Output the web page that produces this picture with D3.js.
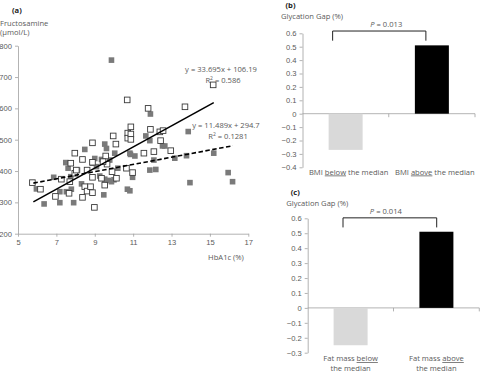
<!DOCTYPE html>
<html><head><meta charset="utf-8">
<script src="https://cdn.jsdelivr.net/npm/d3@7"></script>
<style>
body{margin:0;background:#fff;}
svg{display:block;font-family:"Open Sans","Noto Sans",sans-serif;}
</style></head>
<body><svg id="c" width="480" height="372"></svg>
<script>
// ---- Data ----
const openPts = [
[5.75,363],[6.17,342],[6.95,319],[7.26,374],[7.75,425],[7.96,393],[7.66,329],[7.96,457],
[8.88,490],[8.36,437],[8.48,350],[8.36,316],[8.6,336],[8.78,350],[8.88,331],[8.98,284],
[8.88,428],[8.6,403],[8.88,380],[9.35,377],[9.57,448],[9.64,422],[9.96,512],[10.1,486],
[10.13,377],[9.9,398],[10.72,521],[10.72,505],[10.65,409],[9.52,355],[10.88,541],[10.88,518],
[10.88,501],[11.9,533],[12.39,525],[12.56,529],[12.43,497],[11.56,457],[12.08,462],[12.96,465],
[10.97,395],[10.69,627],[11.78,600],[13.7,605],[15.17,675],[9.43,430],[8.04,403],[7.7,366]
];
const filledPts = [
[5.96,343],[6.36,295],[6.86,380],[7.18,299],[7.18,334],[7.49,427],[7.61,409],[7.75,382],
[7.52,334],[7.78,342],[7.9,299],[8.1,403],[8.31,359],[8.48,469],[8.88,425],[9.09,414],
[9.26,384],[9.35,437],[9.52,486],[9.61,472],[9.47,324],[9.52,374],[9.78,435],[10.04,457],
[9.87,366],[10.2,409],[10.7,342],[10.83,337],[10.83,457],[9.87,754],[11.66,512],[11.87,497],
[12.53,480],[12.65,480],[13.87,526],[10.86,453],[11.09,448],[12.08,435],[13.17,441],[13.78,449],
[15.2,457],[11.87,403],[12.18,405],[10.97,380],[13.96,363],[15.95,395],[16.18,366],[11.9,582],
[9.7,370],[10.0,372],[9.0,440]
];
const fitOpen = {slope:33.695, intercept:106.19, x0:5.8, x1:15.2, eq:"y = 33.695x + 106.19", r2:"0.586"};
const fitFilled = {slope:11.489, intercept:294.7, x0:5.8, x1:16.2, eq:"y = 11.489x + 294.7", r2:"0.1281"};
const xTicksA = [5,7,9,11,13,15,17];
const yTicksA = [200,300,400,500,600,700,800];

const catsB = [["BMI ","below"," the median"],["BMI ","above"," the median"]];
const valsB = [-0.27, 0.51];
const ticksB = [-0.4,-0.3,-0.2,-0.1,0,0.1,0.2,0.3,0.4,0.5,0.6];
const pB = "0.013";

const catsC = [["Fat mass ","below",""],["Fat mass ","above",""]];
const valsC = [-0.25, 0.51];
const ticksC = [-0.3,-0.2,-0.1,0,0.1,0.2,0.3,0.4,0.5,0.6];
const pC = "0.014";

const barColors = ["#d9d9d9","#000000"];

// ---- Drawing ----
const svg = d3.select("#c");
const axisCol = "#a0a0a0", txtCol = "#5a5a5a", fs = 7.6;

// Panel (a)
const xA = d3.scaleLinear().domain([5,17]).range([18,248.3]);
const yA = d3.scaleLinear().domain([200,800]).range([233.7,45.7]);
const gA = svg.append("g");
function styleAxis(g){
  g.selectAll("path,line").attr("stroke",axisCol).attr("stroke-width",0.8);
  g.selectAll("text").attr("fill",txtCol).attr("font-size",fs);
}
gA.append("g").attr("transform",`translate(0,${yA(200)})`)
  .call(d3.axisBottom(xA).tickValues(xTicksA).tickSize(3).tickSizeOuter(0).tickPadding(3))
  .call(styleAxis);
gA.append("g").attr("transform",`translate(${xA(5)},0)`)
  .call(d3.axisLeft(yA).tickValues(yTicksA).tickSize(3).tickSizeOuter(0).tickPadding(3))
  .call(styleAxis);
gA.selectAll(".domain").attr("stroke",axisCol);

const line = d3.line().x(d=>xA(d[0])).y(d=>yA(d[1]));
gA.append("g").selectAll("rect.f").data(filledPts).join("rect")
  .attr("x",d=>xA(d[0])-2.8).attr("y",d=>yA(d[1])-2.8).attr("width",5.6).attr("height",5.6)
  .attr("fill","#7a7a7a");
gA.append("g").selectAll("rect.o").data(openPts).join("rect")
  .attr("x",d=>xA(d[0])-2.8).attr("y",d=>yA(d[1])-2.8).attr("width",5.6).attr("height",5.6)
  .attr("fill","#fff").attr("stroke","#3a3a3a").attr("stroke-width",0.9);
function fitLine(f,dash){
  gA.append("path").datum([[f.x0,f.slope*f.x0+f.intercept],[f.x1,f.slope*f.x1+f.intercept]])
    .attr("d",line).attr("stroke","#000").attr("stroke-width",1.6).attr("fill","none")
    .attr("stroke-dasharray",dash);
}
fitLine(fitOpen,null);
fitLine(fitFilled,"4.5,2.5");

function eqText(f,cx,y){
  gA.append("text").attr("x",cx).attr("y",y).attr("text-anchor","middle").attr("fill",txtCol)
    .attr("font-size",fs).text(f.eq);
  const t = gA.append("text").attr("x",cx+2).attr("y",y+11).attr("text-anchor","middle").attr("fill",txtCol)
    .attr("font-size",fs);
  t.append("tspan").text("R");
  t.append("tspan").attr("font-size",5).attr("dy",-3).text("2");
  t.append("tspan").attr("dy",3).text(" = "+f.r2);
}
eqText(fitOpen,221,71.5);
eqText(fitFilled,226,127.5);

svg.append("text").attr("x",12).attr("y",13).attr("font-size",7.6).attr("font-weight","bold").attr("fill","#222").text("(a)");
svg.append("text").attr("x",0).attr("y",25.5).attr("font-size",fs).attr("fill",txtCol).text("Fructosamine");
svg.append("text").attr("x",0).attr("y",35).attr("font-size",fs).attr("fill",txtCol).text("(μmol/L)");
svg.append("text").attr("x",226).attr("y",260).attr("text-anchor","middle").attr("font-size",fs).attr("fill",txtCol).text("HbA1c (%)");

// Bar panels
function barPanel(o){
  const g = svg.append("g");
  const x = d3.scaleBand().domain([0,1]).range([o.x0,o.x1]).paddingInner(0).paddingOuter(0);
  const y = d3.scaleLinear().domain(o.dom).range(o.yr);
  const bw = o.barW;
  g.append("g").attr("transform",`translate(${o.x0},0)`)
    .call(d3.axisLeft(y).tickValues(o.ticks).tickSize(3).tickSizeOuter(0).tickPadding(3)
      .tickFormat(d=>d===0?"0":d3.format(".1f")(d)))
    .call(styleAxis);
  // x axis line at zero
  const gx = g.append("g").attr("transform",`translate(0,${y(0)})`);
  gx.append("line").attr("x1",o.x0).attr("x2",o.x1).attr("stroke",axisCol).attr("stroke-width",0.8);
  gx.selectAll("line.t").data([1,2]).join("line").attr("x1",d=>o.x0+d*x.bandwidth()).attr("x2",d=>o.x0+d*x.bandwidth())
    .attr("y1",0).attr("y2",3.5).attr("stroke",axisCol).attr("stroke-width",0.8);
  g.selectAll("rect").data(o.vals).join("rect")
    .attr("x",(d,i)=>x(i)+x.bandwidth()/2-bw/2).attr("width",bw)
    .attr("y",d=>y(Math.max(0,d))).attr("height",d=>Math.abs(y(d)-y(0)))
    .attr("fill",(d,i)=>barColors[i]);
  // bracket
  const bx1 = x(0)+x.bandwidth()/2+o.bOff[0], bx2 = x(1)+x.bandwidth()/2+o.bOff[1];
  g.append("path").attr("d",`M${bx1},${y(o.bBot)}V${y(o.bTop)}H${bx2}V${y(o.bBot)}`)
    .attr("fill","none").attr("stroke","#222").attr("stroke-width",1);
  const pt = g.append("text").attr("x",(bx1+bx2)/2+o.pdx).attr("y",y(o.bTop)-4).attr("text-anchor","middle")
    .attr("font-size",fs).attr("fill",txtCol);
  pt.append("tspan").attr("font-style","italic").text("P");
  pt.append("tspan").text(" = "+o.p);
  // category labels
  o.cats.forEach((c,i)=>{
    const cx = x(i)+x.bandwidth()/2+o.ldx;
    const t = g.append("text").attr("x",cx).attr("y",o.ly).attr("text-anchor","middle")
      .attr("font-size",fs).attr("fill",txtCol);
    t.append("tspan").text(c[0]);
    t.append("tspan").attr("text-decoration","underline").text(c[1]);
    if(o.twoLine){
      t.append("tspan").text(c[2]);
      g.append("text").attr("x",cx).attr("y",o.ly+9.5).attr("text-anchor","middle")
        .attr("font-size",fs).attr("fill",txtCol).text("the median");
    } else {
      t.append("tspan").text(c[2]);
    }
  });
  svg.append("text").attr("x",o.x0-17).attr("y",o.titleY-11).attr("font-size",7.6).attr("font-weight","bold").attr("fill","#222").text(o.tag);
  svg.append("text").attr("x",o.x0-21.5).attr("y",o.titleY).attr("font-size",fs).attr("fill",txtCol).text("Glycation Gap (%)");
}
barPanel({x0:302.5,x1:475,dom:[-0.4,0.6],yr:[167.3,33.3],ticks:ticksB,vals:valsB,barW:34,
  bTop:0.617,bBot:0.545,bOff:[-13,-6],p:pB,pdx:7,cats:catsB,ly:174.5,ldx:3,twoLine:false,tag:"(b)",titleY:19});
barPanel({x0:307.7,x1:479.3,dom:[-0.3,0.6],yr:[352.7,218.3],ticks:ticksC,vals:valsC,barW:34,
  bTop:0.603,bBot:0.539,bOff:[-7.6,0.3],p:pC,pdx:-4,cats:catsC,ly:361,ldx:0,twoLine:true,tag:"(c)",titleY:206});
</script></body></html>
